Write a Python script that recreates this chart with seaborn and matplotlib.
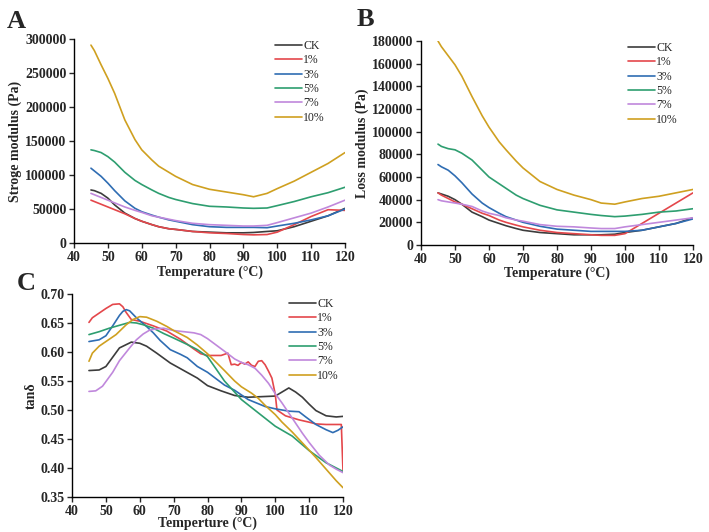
import pandas as pd
import seaborn as sns
import matplotlib.pyplot as plt

# ---- data ----
groups = ['CK', '1%', '3%', '5%', '7%', '10%']
colors = ['#3c3c3c', '#e4474b', '#2f6db3', '#2e9e70', '#c088dc', '#cfa020']

temp = [45, 46, 48, 50, 52, 55, 58, 60, 63, 65, 68, 70, 75, 80, 85, 90, 93, 97, 100, 105, 110, 115, 120]

# storage modulus (kPa)
g_ck = [78, 77, 73, 66, 56, 44, 36, 32, 27, 24, 21, 20, 17, 16, 15, 15, 15.5, 17, 18, 24, 32, 40, 51]
g_1 = [63, 61, 57, 53, 49, 43, 36, 32, 27, 24, 21, 20, 17, 15, 14, 12.5, 12, 12.5, 16, 27, 39, 49, 48]
g_3 = [110, 106, 98, 88, 77, 62, 51, 46, 41, 38, 34, 32, 27, 24, 23, 23, 23, 22.5, 25, 29, 34, 40, 50]
g_5 = [137, 136, 133, 127, 119, 104, 92, 86, 78, 73, 67, 64, 58, 54, 53, 51.5, 51, 51.5, 55, 61, 68, 74, 82]
g_7 = [73, 71, 67, 63, 59, 53, 48, 45, 40, 38, 35, 33, 29, 27, 26, 25, 25, 26, 30, 37, 44, 53, 63]
g_10 = [291, 283, 262, 242, 220, 181, 152, 137, 122, 113, 104, 98, 86, 79, 75, 71, 68, 73, 80, 91, 104, 117, 133]

# loss modulus (kPa)
l_ck = [46, 45, 43, 40, 36, 29, 25, 22, 19, 17, 14.5, 13, 11, 10, 9, 9, 9, 9.5, 11, 13, 16, 19, 24]
l_1 = [46, 44, 41, 38, 36, 32, 28, 26, 22, 20, 17.5, 16, 13, 11, 10, 9, 8.5, 8.5, 10, 19, 28, 37, 46]
l_3 = [71, 69, 66, 61, 55, 45, 37, 33, 28, 25, 22, 20, 16.5, 14, 13, 12, 12, 12, 12, 13, 16, 19, 23]
l_5 = [89, 87, 85, 84, 81, 75, 66, 60, 54, 50, 44, 41, 35, 31, 29, 27, 26, 25, 25.5, 27, 29, 30, 32]
l_7 = [40, 39, 38, 37, 36, 34, 30, 28, 26, 24, 22, 21, 18, 16.5, 16, 15, 14.5, 14.5, 16, 18, 20, 22, 24]
l_10 = [180, 175, 167, 159, 149, 131, 114, 104, 91, 84, 74, 68, 56, 49, 44, 40, 37, 36, 38, 41, 43, 46, 49]

# tan delta
t_ck_x = [45, 48, 50, 54, 57.5, 60, 62, 65, 69, 73, 77, 80, 84, 88, 92, 96, 100, 102, 104, 106, 108, 110, 112, 115, 118, 120]
t_ck = [0.568, 0.569, 0.575, 0.607, 0.617, 0.615, 0.610, 0.598, 0.581, 0.568, 0.555, 0.542, 0.533, 0.525, 0.522, 0.523,
        0.524, 0.531, 0.538, 0.531, 0.522, 0.510, 0.499, 0.490, 0.488, 0.489]
t_1_x = [45, 46, 48, 50, 52, 54, 55, 56, 57.5, 60, 64, 68, 72, 76, 78, 80, 84, 86, 87, 88, 89, 90, 91, 92, 93, 94, 95, 96,
         97, 98, 99, 100, 100.5, 103, 107, 110, 112, 115, 118, 119.5, 120]
t_1 = [0.651, 0.659, 0.667, 0.675, 0.682, 0.683, 0.678, 0.668, 0.656, 0.653, 0.645, 0.636, 0.622, 0.605, 0.597, 0.594,
       0.594, 0.598, 0.578, 0.579, 0.577, 0.582, 0.579, 0.583, 0.577, 0.575, 0.584, 0.585, 0.578, 0.567, 0.555, 0.527,
       0.500, 0.490, 0.483, 0.479, 0.476, 0.475, 0.475, 0.475, 0.394]
t_3_x = [45, 48, 50, 52, 54, 55, 56, 57, 59, 62, 64, 66, 69, 72, 74, 77, 80, 85, 88, 92, 97, 100, 104, 107, 109, 112, 115,
         117, 118.5, 120]
t_3 = [0.618, 0.621, 0.628, 0.645, 0.663, 0.670, 0.673, 0.671, 0.659, 0.644, 0.633, 0.620, 0.604, 0.596, 0.590, 0.575,
       0.565, 0.543, 0.534, 0.518, 0.506, 0.502, 0.498, 0.497, 0.488, 0.475, 0.466, 0.461, 0.465, 0.471]
t_5_x = [45, 48, 51, 54, 57, 59, 61, 64, 67, 70, 74, 77, 80, 85, 90, 95, 100, 105, 110, 115, 118, 120]
t_5 = [0.630, 0.635, 0.641, 0.646, 0.651, 0.650, 0.647, 0.641, 0.632, 0.624, 0.613, 0.604, 0.592, 0.550, 0.518, 0.495,
       0.472, 0.455, 0.430, 0.409, 0.400, 0.394]
t_7_x = [45, 47, 49, 52, 54, 57, 59, 61, 63, 65, 67, 70, 73, 76, 78, 80, 83, 86, 88, 90, 92, 94, 96, 98, 100, 102, 105,
         108, 110, 113, 116, 118, 120]
t_7 = [0.532, 0.533, 0.541, 0.565, 0.585, 0.607, 0.621, 0.631, 0.638, 0.640, 0.641, 0.637, 0.635, 0.633, 0.630, 0.623,
       0.610, 0.597, 0.588, 0.582, 0.578, 0.572, 0.560, 0.546, 0.528, 0.512, 0.486, 0.460, 0.444, 0.422, 0.405, 0.398,
       0.392]
t_10_x = [45, 46, 48, 50, 53, 56, 58, 60, 62, 65, 68, 70, 74, 77, 80, 85, 88, 90, 93, 95, 97, 100, 102, 105, 109, 112,
          115, 118, 120]
t_10 = [0.584, 0.598, 0.610, 0.618, 0.630, 0.647, 0.656, 0.661, 0.660, 0.653, 0.644, 0.637, 0.625, 0.612, 0.597, 0.568,
        0.550, 0.540, 0.529, 0.520, 0.508, 0.492, 0.479, 0.462, 0.437, 0.418, 0.398, 0.378, 0.366]


def long_df(xs, ys, scale=1.0):
    parts = []
    for g, x, y in zip(groups, xs, ys):
        parts.append(pd.DataFrame({'T': x, 'v': [val * scale for val in y], 'grp': g}))
    return pd.concat(parts, ignore_index=True)


df_g = long_df([temp] * 6, [g_ck, g_1, g_3, g_5, g_7, g_10], 1000)
df_l = long_df([temp] * 6, [l_ck, l_1, l_3, l_5, l_7, l_10], 1000)
df_t = long_df([t_ck_x, t_1_x, t_3_x, t_5_x, t_7_x, t_10_x], [t_ck, t_1, t_3, t_5, t_7, t_10])

sns.set_style('ticks')
plt.rcParams['font.family'] = ['Liberation Serif', 'DejaVu Serif']
plt.rcParams['axes.linewidth'] = 1.0

fig = plt.figure(figsize=(7.09, 5.32), dpi=100)
ax_a = fig.add_axes([0.1044, 0.5432, 0.3822, 0.3835])
ax_b = fig.add_axes([0.5938, 0.5395, 0.3836, 0.3834])
ax_c = fig.add_axes([0.1016, 0.0658, 0.3822, 0.3816])

pal = dict(zip(groups, colors))


def panel(ax, df, ylim, yticks, ylabel, xlabel, yfmt, leg_anchor, xlabelpad=1):
    sns.lineplot(data=df, x='T', y='v', hue='grp', hue_order=groups, palette=pal,
                 linewidth=1.2, sort=True, estimator=None, ax=ax)
    ax.set_xlim(40, 120)
    ax.set_ylim(*ylim)
    ax.set_xticks(range(40, 121, 10))
    ax.set_yticks(yticks)
    ax.set_yticklabels([yfmt(v) for v in yticks])
    ax.tick_params(direction='out', length=3.5, width=1, pad=2, labelsize=10)
    for lab in ax.get_xticklabels() + ax.get_yticklabels():
        lab.set_fontweight('bold')
    ax.set_ylabel(ylabel, fontsize=10, fontweight='bold', labelpad=2)
    ax.set_xlabel(xlabel, fontsize=10, fontweight='bold', labelpad=xlabelpad)
    for s in ['top', 'right']:
        ax.spines[s].set_visible(False)
    ax.spines['left'].set_color('black')
    ax.spines['bottom'].set_color('black')
    ax.legend(frameon=False, fontsize=8.5, loc='upper right', bbox_to_anchor=leg_anchor,
              handlelength=2.3, handletextpad=0.1, labelspacing=0.2, borderaxespad=0.2)


panel(ax_a, df_g, (0, 300000), list(range(0, 300001, 50000)), 'Stroge modulus (Pa)',
      'Temperature (°C)', lambda v: f'{v:d}', (0.952, 1.03))
panel(ax_b, df_l, (0, 180000), list(range(0, 180001, 20000)), 'Loss modulus (Pa)',
      'Temperature (°C)', lambda v: f'{v:d}', (0.971, 1.03))
panel(ax_c, df_t, (0.35, 0.70), [0.35, 0.40, 0.45, 0.50, 0.55, 0.60, 0.65, 0.70], 'tanδ',
      'Temperture (°C)', lambda v: f'{v:.2f}', (1.011, 1.015), xlabelpad=-1)

fig.text(0.010, 0.947, 'A', fontsize=19, fontweight='bold', va='baseline')
fig.text(0.503, 0.951, 'B', fontsize=19, fontweight='bold', va='baseline')
fig.text(0.023, 0.455, 'C', fontsize=19, fontweight='bold', va='baseline')

fig.savefig('out.png', dpi=100)
